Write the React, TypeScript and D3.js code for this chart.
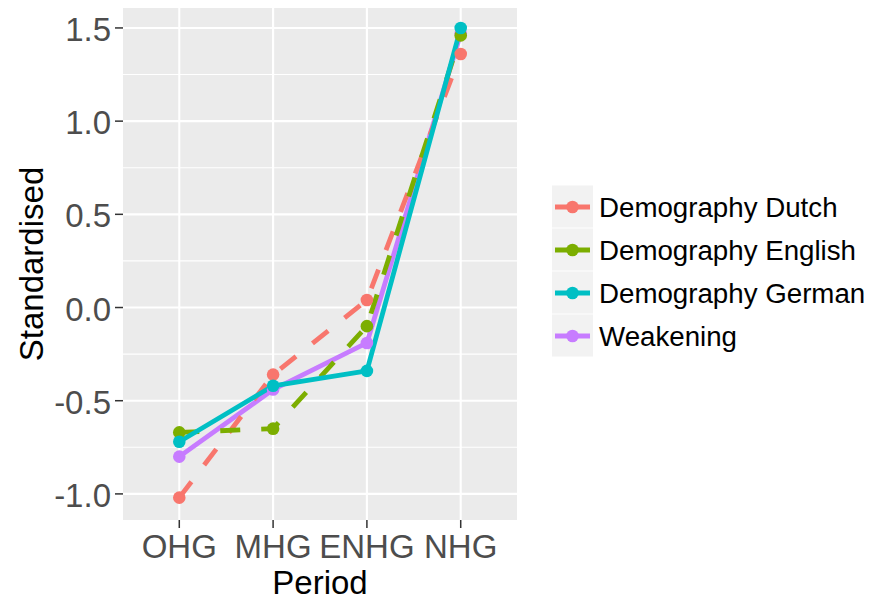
import React from "react";
import * as d3 from "d3";

const periods = ["OHG", "MHG", "ENHG", "NHG"];
const seriesNames = ["Demography Dutch", "Demography English", "Demography German", "Weakening"];
const dutch = [-1.02, -0.36, 0.04, 1.36];
const english = [-0.67, -0.65, -0.1, 1.46];
const german = [-0.72, -0.42, -0.34, 1.5];
const weakening = [-0.8, -0.44, -0.19, 1.47];
const colors = ["#F8766D", "#7CAE00", "#00BFC4", "#C77CFF"];
const dashes = ["20,21", "20,21", "none", "none"];
const yTicks = [-1.0, -0.5, 0.0, 0.5, 1.0, 1.5];
const yMinor = [-0.75, -0.25, 0.25, 0.75, 1.25];

const W = 871, H = 600;
const P = { left: 123, right: 517, top: 8, bottom: 520 };
const FONT = "'Liberation Sans', Arial, sans-serif";

export default function App() {
  const x = d3.scalePoint<string>().domain(periods).range([P.left, P.right]).padding(0.6);
  const y = d3.scaleLinear().domain([-1.14, 1.607]).range([P.bottom, P.top]);
  const values = [dutch, english, german, weakening];
  const line = d3.line<number>().x((_, i) => x(periods[i]) as number).y((v) => y(v));
  const drawOrder = [3, 0, 1, 2];
  const legendTop = 185.5;
  const keyH = 43;
  const fmt = (t: number) => d3.format(".1f")(t).replace("\u2212", "-");

  return (
    <svg width={W} height={H} style={{ position: "absolute", left: 0, top: 0, background: "#fff" }} fontFamily={FONT}>
      <rect x={P.left} y={P.top} width={P.right - P.left} height={P.bottom - P.top} fill="#EBEBEB" />
      {yMinor.map((t) => (
        <line key={"mn" + t} x1={P.left} x2={P.right} y1={y(t)} y2={y(t)} stroke="#fff" strokeWidth={1.1} />
      ))}
      {yTicks.map((t) => (
        <line key={"mj" + t} x1={P.left} x2={P.right} y1={y(t)} y2={y(t)} stroke="#fff" strokeWidth={2.1} />
      ))}
      {periods.map((p) => (
        <line key={"vx" + p} x1={x(p)} x2={x(p)} y1={P.top} y2={P.bottom} stroke="#fff" strokeWidth={2.1} />
      ))}
      {drawOrder.map((i) => (
        <path key={"l" + i} d={line(values[i]) as string} fill="none" stroke={colors[i]} strokeWidth={4.8}
          strokeDasharray={dashes[i]} strokeLinejoin="round" />
      ))}
      {drawOrder.map((i) =>
        values[i].map((v, j) => (
          <circle key={"p" + i + "-" + j} cx={x(periods[j])} cy={y(v)} r={6.3} fill={colors[i]} />
        ))
      )}
      {/* y axis */}
      {yTicks.map((t) => (
        <g key={"yt" + t}>
          <line x1={P.left - 8} x2={P.left} y1={y(t)} y2={y(t)} stroke="#333" strokeWidth={1.5} />
          <text x={P.left - 12} y={y(t) + 13} textAnchor="end" fontSize={33} fill="#4D4D4D">
            {fmt(t)}
          </text>
        </g>
      ))}
      {/* x axis */}
      {periods.map((p) => (
        <g key={"xt" + p}>
          <line x1={x(p)} x2={x(p)} y1={P.bottom} y2={P.bottom + 8} stroke="#333" strokeWidth={1.5} />
          <text x={x(p)} y={558} textAnchor="middle" fontSize={33} fill="#4D4D4D">{p}</text>
        </g>
      ))}
      <text x={(P.left + P.right) / 2} y={594} textAnchor="middle" fontSize={33} fill="#000">Period</text>
      <text transform={`translate(43, ${(P.top + P.bottom) / 2}) rotate(-90)`} textAnchor="middle" fontSize={33} fill="#000">
        Standardised
      </text>
      {/* legend */}
      {seriesNames.map((s, i) => {
        const cy = legendTop + i * keyH + keyH / 2;
        return (
          <g key={"lg" + s}>
            <rect x={552} y={legendTop + i * keyH} width={41} height={keyH - 1} fill="#F2F2F2" />
            <line x1={555} x2={590} y1={cy} y2={cy} stroke={colors[i]} strokeWidth={4.8} />
            <circle cx={572.5} cy={cy} r={6.3} fill={colors[i]} />
            <text x={599} y={cy + 10} fontSize={27.7} fill="#000">{s}</text>
          </g>
        );
      })}
    </svg>
  );
}
